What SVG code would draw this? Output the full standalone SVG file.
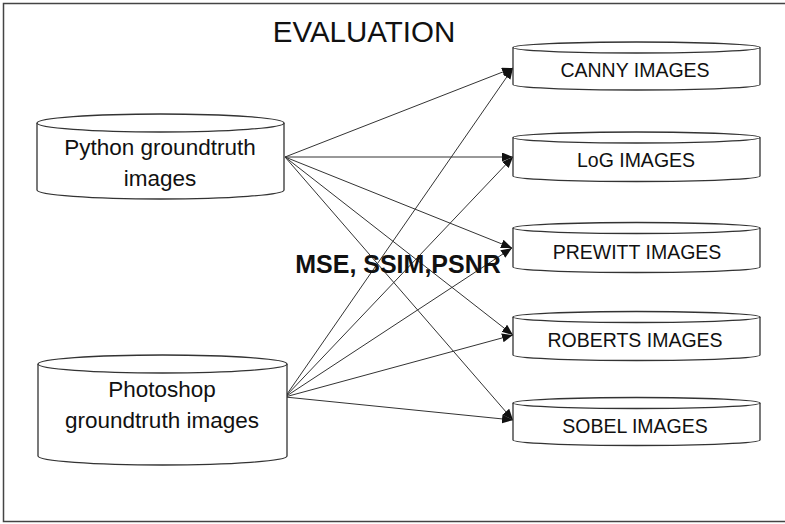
<svg xmlns="http://www.w3.org/2000/svg" width="785" height="524" viewBox="0 0 785 524">
<defs>
<marker id="ah" markerUnits="userSpaceOnUse" markerWidth="12" markerHeight="10" refX="11" refY="4.5" orient="auto">
<path d="M0,0 L11,4.5 L0,9 z" fill="#111"/>
</marker>
<style>
.cyl{fill:#fff;stroke:#333;stroke-width:1.3}
.t{font-family:"Liberation Sans",Arial,sans-serif;fill:#111;text-anchor:middle}
.c{stroke:#333;stroke-width:1;fill:none;marker-end:url(#ah)}
</style>
</defs>
<rect x="0" y="0" width="785" height="524" fill="#fff"/>
<rect x="3.5" y="3.5" width="790" height="518" fill="none" stroke="#444" stroke-width="1.5"/>
<text class="t" x="364" y="42" font-size="29.5">EVALUATION</text>

<g id="connectors">
<line class="c" x1="285" y1="157" x2="513" y2="68"/>
<line class="c" x1="285" y1="157" x2="513" y2="157"/>
<line class="c" x1="285" y1="157" x2="512" y2="248"/>
<line class="c" x1="285" y1="157" x2="513" y2="335"/>
<line class="c" x1="285" y1="157" x2="513" y2="420"/>
<line class="c" x1="285" y1="397" x2="513" y2="68"/>
<line class="c" x1="285" y1="397" x2="513" y2="157"/>
<line class="c" x1="285" y1="397" x2="512" y2="248"/>
<line class="c" x1="285" y1="397" x2="513" y2="335"/>
<line class="c" x1="285" y1="397" x2="513" y2="420"/>
</g>

<g id="python">
<path class="cyl" d="M37,123 L37,190 A123.5,9 0 0 0 284,190 L284,123"/>
<ellipse class="cyl" cx="160.5" cy="123" rx="123.5" ry="9"/>
<text class="t" x="160" y="155" font-size="22.5">Python groundtruth</text>
<text class="t" x="160" y="186" font-size="22.5">images</text>
</g>

<g id="photoshop">
<path class="cyl" d="M38,364 L38,456 A124.5,9 0 0 0 287,456 L287,364"/>
<ellipse class="cyl" cx="162.5" cy="364" rx="124.5" ry="9"/>
<text class="t" x="162" y="397" font-size="22.5">Photoshop</text>
<text class="t" x="162" y="428" font-size="22.5">groundtruth images</text>
</g>

<g id="canny">
<path class="cyl" d="M513,47.5 L513,84.5 A123.5,5.5 0 0 0 760,84.5 L760,47.5"/>
<ellipse class="cyl" cx="636.5" cy="47.5" rx="123.5" ry="5.5"/>
<text class="t" x="635" y="77" font-size="19.5">CANNY IMAGES</text>
</g>

<g id="log">
<path class="cyl" d="M513,137.5 L513,176 A123.5,5.5 0 0 0 760,176 L760,137.5"/>
<ellipse class="cyl" cx="636.5" cy="137.5" rx="123.5" ry="5.5"/>
<text class="t" x="636" y="167" font-size="19.5">LoG IMAGES</text>
</g>

<g id="prewitt">
<path class="cyl" d="M513,228 L513,267 A123.5,5.5 0 0 0 760,267 L760,228"/>
<ellipse class="cyl" cx="636.5" cy="228" rx="123.5" ry="5.5"/>
<text class="t" x="637" y="259" font-size="19.5">PREWITT IMAGES</text>
</g>

<g id="roberts">
<path class="cyl" d="M513,317 L513,355 A123.5,5.5 0 0 0 760,355 L760,317"/>
<ellipse class="cyl" cx="636.5" cy="317" rx="123.5" ry="5.5"/>
<text class="t" x="635" y="347" font-size="19.5">ROBERTS IMAGES</text>
</g>

<g id="sobel">
<path class="cyl" d="M513,403 L513,440 A123.5,5.5 0 0 0 760,440 L760,403"/>
<ellipse class="cyl" cx="636.5" cy="403" rx="123.5" ry="5.5"/>
<text class="t" x="635" y="433" font-size="19.5">SOBEL IMAGES</text>
</g>

<text class="t" x="398" y="273" font-size="25" font-weight="bold">MSE, SSIM,PSNR</text>
</svg>
